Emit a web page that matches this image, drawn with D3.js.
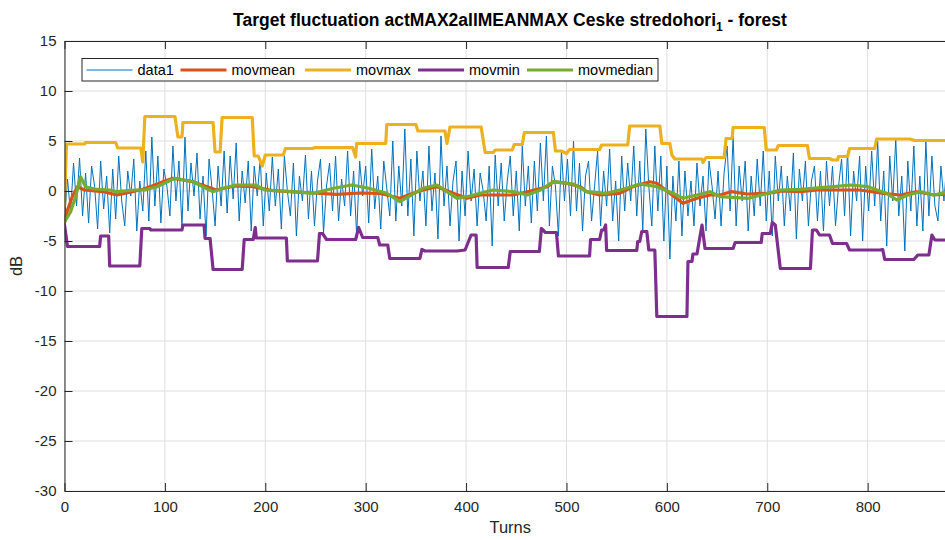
<!DOCTYPE html>
<html>
<head>
<meta charset="utf-8">
<script src="https://cdn.jsdelivr.net/npm/d3@7"></script>
<style>
  html, body { margin: 0; padding: 0; background: #fff; }
  svg { display: block; font-family: "Liberation Sans", Arial, Helvetica, sans-serif; }
</style>
</head>
<body>
<div id="chart"></div>
<script>
// data1: one value every 3 turns
const data1Step = 3;
const data1 = [
  -3.0, 1.2, -2.2, 2.8, -1.5, 3.3, -2.5, 1.8, -3.2, 2.5,
  0.5, -3.8, 3.0, -1.8, 1.5, -4.2, 2.2, -2.8, 3.5, -1.0,
  -3.5, 2.0, -0.5, 3.2, -4.0, 1.0, -2.0, 4.0, -3.0, 5.4,
  -1.5, 3.5, -3.2, 2.2, 0.5, -2.5, 4.5, -1.0, 3.0, -3.6,
  5.4, -2.0, 2.8, -0.5, 3.8, -2.8, 1.5, -4.5, 3.2, 0.2,
  -3.5, 2.5, -1.5, 4.0, -2.2, 3.5, -0.8, 4.8, -3.0, 2.0,
  -1.2, 3.0, -4.0, 2.5, -0.5, 3.3, -3.5, 1.8, -2.0, 3.4,
  -1.5, 2.2, -3.8, 3.5, 0.0, -2.5, 2.8, -4.5, 1.5, -1.0,
  3.6, -2.8, 2.0, -3.5, 1.0, 3.2, -4.2, 0.5, 2.8, -2.0,
  3.5, -3.0, 1.2, -1.5, 4.0, -2.5, 2.0, -4.5, 3.0, -0.5,
  2.5, -3.2, 4.2, -1.8, 1.5, -3.8, 3.0, 0.3, -2.5, 5.0,
  -3.0, 2.5, -1.5, 6.2, -2.5, 3.2, -4.5, 4.0, -1.0, 2.0,
  -3.5, 4.5, -2.0, 1.8, -4.8, 5.5, -1.5, 2.5, -3.5, 1.0,
  3.0, -5.0, 2.0, -2.5, 4.0, -1.0, 2.2, -3.5, 1.8, 0.0,
  -3.0, 2.5, -5.5, 3.6, -1.5, 2.8, -3.0, 1.0, 3.5, -2.5,
  2.0, -4.0, 4.5, -1.5, 2.5, -3.2, 3.0, -2.0, 4.8, -1.0,
  5.5, -3.5, 2.5, 0.5, -4.5, 4.0, -1.0, 3.2, -2.5, 5.0,
  -2.0, 2.8, -4.0, 1.5, 3.0, -3.0, 0.5, 4.0, -3.5, 2.0,
  -1.5, 4.2, -3.0, 1.0, -5.0, 3.5, -2.0, 2.8, -1.0, 4.5,
  -2.5, 3.0, -4.0, 6.2, 0.5, -3.5, 4.5, -2.0, 3.5, -5.0,
  2.5, -6.8, 1.5, -3.0, 3.0, -4.5, 2.0, -2.5, 1.0, -3.5,
  2.8, -1.5, 1.5, -4.0, 3.0, 0.5, -2.8, 2.0, -3.5, 1.8,
  4.5, -2.0, 5.5, -3.5, 2.5, -1.0, 3.0, -4.0, 1.5, -2.5,
  3.2, -1.5, 4.0, -3.0, 2.0, -4.5, 3.5, -1.0, 2.5, -3.5,
  1.5, -2.0, 3.8, -4.8, 2.2, -1.0, 3.0, -3.5, 1.0, 2.5,
  -3.0, 2.0, -4.0, 3.0, -1.5, 2.5, -3.5, 0.5, 3.2, -2.5,
  4.0, -4.5, 2.0, -1.0, 3.5, -5.0, 2.5, -2.0, 4.0, -1.5,
  5.0, -3.0, 2.0, -5.5, 3.5, -1.0, 5.2, -2.5, 1.5, -6.0,
  3.0, -2.0, 4.5, -3.5, 1.5, -4.0, 5.0, -2.5, 3.5, -1.5,
  -3.0, 2.5, -1.0, 3.0, -2.0, 1.5, -2.5
];

// moving statistics: [turn, dB] breakpoints
const movmean = [
  [0,-3.2],[3,-1.9],[8,-0.5],[13,0.43],[20,0.1],[30,0.0],[40,-0.1],[52,-0.4],[62,-0.2],[78,0.17],
  [90,0.6],[100,1.0],[108,1.27],[118,1.1],[128,0.93],[140,0.5],[151,0.1],[160,0.3],[171,0.5],[188,0.43],
  [208,0.03],[228,-0.1],[248,-0.2],[271,-0.33],[295,-0.2],[314,-0.25],[321,-0.4],[334,-0.73],[345,-0.3],[357,0.1],
  [371,0.43],[388,-0.25],[401,-0.73],[414,-0.4],[434,-0.4],[447,-0.4],[461,-0.07],[481,0.43],[487,0.93],[500,0.77],
  [514,0.43],[520,-0.07],[533,-0.4],[553,-0.23],[566,0.43],[583,0.93],[590,0.77],[603,-0.23],[616,-1.23],[630,-0.73],
  [643,-0.4],[653,-0.4],[664,-0.07],[680,-0.3],[700,-0.23],[715,0.0],[733,-0.07],[750,0.1],[766,0.1],[792,0.1],
  [816,-0.23],[832,-0.4],[849,-0.07],[866,-0.4],[888,-0.23]
];

const movmax = [
  [0,-1.5],[2,4.7],[20,4.7],[21,4.85],[51,4.85],[53,4.3],[76,4.3],[78,2.9],[80,7.45],[110,7.45],
  [113,5.4],[117,5.4],[118,6.85],[148,6.85],[150,3.9],[155,3.9],[157,7.35],[187,7.35],[189,3.5],[193,3.5],
  [197,2.5],[200,3.6],[218,3.6],[220,4.25],[247,4.25],[249,4.33],[287,4.33],[290,3.4],[291,4.75],[320,4.75],
  [321,6.65],[350,6.65],[352,6.0],[379,6.0],[381,4.75],[384,6.4],[415,6.4],[419,3.85],[427,3.85],[429,4.1],
  [446,4.1],[448,4.65],[456,4.65],[458,5.85],[487,5.85],[489,4.0],[495,4.0],[500,3.75],[503,4.15],[533,4.15],
  [535,4.6],[561,4.6],[563,6.5],[593,6.5],[595,4.75],[603,4.75],[605,3.6],[608,3.2],[635,3.2],[636,2.85],
  [639,3.35],[657,3.35],[659,5.25],[665,5.25],[666,6.35],[697,6.35],[699,4.1],[709,4.1],[711,4.55],[740,4.55],
  [742,3.25],[762,3.25],[765,3.1],[770,3.1],[771,3.45],[780,3.45],[782,4.25],[807,4.25],[809,5.2],[842,5.2],
  [847,5.05],[888,5.05]
];

const movmin = [
  [0,-3.4],[3,-5.55],[35,-5.55],[36,-4.5],[44,-4.5],[45,-7.5],[75,-7.5],[77,-3.75],[85,-3.75],[86,-3.9],
  [117,-3.9],[118,-3.4],[139,-3.4],[140,-4.75],[145,-4.75],[148,-7.85],[177,-7.85],[179,-4.85],[188,-4.85],[190,-3.65],
  [191,-4.7],[221,-4.7],[222,-7.0],[252,-7.0],[254,-4.25],[257,-4.25],[261,-4.85],[290,-4.85],[293,-3.65],[297,-4.65],
  [312,-4.65],[314,-5.4],[322,-5.4],[324,-6.75],[354,-6.75],[356,-5.85],[359,-6.0],[391,-6.0],[399,-5.9],[405,-4.4],
  [410,-4.4],[411,-7.65],[442,-7.65],[444,-6.05],[473,-6.05],[475,-3.75],[479,-4.15],[490,-4.15],[492,-6.5],[523,-6.5],
  [524,-4.85],[533,-4.85],[535,-3.9],[537,-3.9],[539,-3.4],[540,-5.95],[570,-5.95],[571,-5.05],[573,-5.05],[575,-4.05],
  [580,-4.05],[582,-5.9],[588,-5.9],[590,-12.55],[620,-12.55],[621,-7.05],[625,-7.05],[626,-6.3],[630,-6.3],[633,-4.55],
  [635,-3.4],[638,-5.75],[666,-5.75],[668,-5.15],[694,-5.15],[695,-4.25],[703,-4.25],[705,-3.15],[708,-3.4],[713,-7.75],
  [743,-7.75],[745,-3.9],[749,-3.9],[752,-4.4],[762,-4.4],[765,-5.25],[779,-5.25],[782,-5.9],[812,-5.9],[815,-5.85],
  [817,-6.85],[846,-6.85],[850,-6.4],[861,-6.4],[864,-4.4],[867,-4.9],[888,-4.9]
];

const movmedian = [
  [0,-3.1],[6,-2.1],[11,-0.6],[16,1.43],[21,0.43],[30,0.2],[45,0.1],[52,-0.07],[70,0.1],[80,0.1],
  [92,0.43],[110,1.27],[128,0.93],[148,-0.07],[158,0.27],[171,0.6],[190,0.6],[200,0.1],[228,-0.07],[248,-0.23],
  [268,0.27],[286,0.6],[303,0.27],[321,-0.23],[334,-1.07],[357,0.27],[371,0.6],[391,-0.73],[401,-0.57],[414,-0.23],
  [427,0.1],[447,-0.07],[461,-0.4],[474,0.1],[487,0.93],[507,0.7],[520,-0.07],[540,-0.23],[560,0.27],[573,0.7],
  [590,0.43],[606,-0.23],[616,-0.73],[630,-0.4],[643,-0.07],[653,-0.57],[681,-0.73],[694,-0.4],[713,0.1],[733,0.17],
  [766,0.43],[783,0.6],[800,0.43],[819,-0.23],[829,-0.9],[840,-0.4],[853,-0.07],[866,-0.4],[888,0.1]
];

const xTicks = [0, 100, 200, 300, 400, 500, 600, 700, 800];
const yTicks = [15, 10, 5, 0, -5, -10, -15, -20, -25, -30];
const legendNames = ["data1", "movmean", "movmax", "movmin", "movmedian"];

// Layout
const width = 945;
const height = 540;
const margin = { left: 64.5, top: 41, bottom: 491, right: 956 };

const svg = d3
  .select("#chart")
  .append("svg")
  .attr("width", width)
  .attr("height", height);

const x = d3.scaleLinear().domain([0, 888]).range([margin.left, margin.right]);
const y = d3.scaleLinear().domain([-30, 15]).range([margin.bottom, margin.top]);

// MATLAB default colour order
const colors = {
  data1: "#0072BD",
  movmean: "#D95319",
  movmax: "#EDB120",
  movmin: "#7E2F8E",
  movmedian: "#77AC30",
};

// Grid
const grid = svg.append("g").attr("stroke", "#dedede").attr("stroke-width", 1);
grid
  .selectAll(".vg")
  .data(xTicks)
  .join("line")
  .attr("x1", (d) => x(d))
  .attr("x2", (d) => x(d))
  .attr("y1", margin.top)
  .attr("y2", margin.bottom);
grid
  .selectAll(".hg")
  .data(yTicks)
  .join("line")
  .attr("x1", margin.left)
  .attr("x2", margin.right)
  .attr("y1", (d) => y(d))
  .attr("y2", (d) => y(d));

// Clip
svg
  .append("clipPath")
  .attr("id", "plot-clip")
  .append("rect")
  .attr("x", margin.left)
  .attr("y", margin.top)
  .attr("width", margin.right - margin.left)
  .attr("height", margin.bottom - margin.top);

const plot = svg.append("g").attr("clip-path", "url(#plot-clip)");

const line = d3
  .line()
  .x((d) => x(d[0]))
  .y((d) => y(d[1]));

plot
  .append("path")
  .datum(data1.map((v, i) => [i * data1Step, v]))
  .attr("d", line)
  .attr("fill", "none")
  .attr("stroke", colors.data1)
  .attr("stroke-width", 1)
  .attr("stroke-linejoin", "round");

const thick = [
  ["movmean", movmean],
  ["movmax", movmax],
  ["movmin", movmin],
  ["movmedian", movmedian],
];
thick.forEach(([name, pts]) => {
  plot
    .append("path")
    .datum(pts)
    .attr("d", line)
    .attr("fill", "none")
    .attr("stroke", colors[name])
    .attr("stroke-width", 3.2)
    .attr("stroke-linejoin", "round")
    .attr("stroke-linecap", "round");
});

// Axes (ticks inward, like MATLAB); plain hyphen for negatives
const axisColor = "#262626";
const fmt = (d) => String(d);
const xAxis = svg
  .append("g")
  .attr("transform", `translate(0,${margin.bottom})`)
  .call(d3.axisBottom(x).tickValues(xTicks).tickFormat(fmt).tickSize(-8).tickSizeOuter(0).tickPadding(10));
const xTop = svg
  .append("g")
  .attr("transform", `translate(0,${margin.top})`)
  .call(d3.axisTop(x).tickValues(xTicks).tickSize(-8).tickSizeOuter(0).tickFormat(""));
const yAxis = svg
  .append("g")
  .attr("transform", `translate(${margin.left},0)`)
  .call(d3.axisLeft(y).tickValues(yTicks).tickFormat(fmt).tickSize(-8).tickSizeOuter(0).tickPadding(8));

[xAxis, xTop, yAxis].forEach((g) => {
  g.selectAll("path, line").attr("stroke", axisColor).attr("stroke-width", 1);
  g.selectAll("text")
    .attr("fill", axisColor)
    .attr("font-size", "15px")
    .attr("font-family", '"Liberation Sans", Arial, sans-serif');
});
xAxis.selectAll("text").attr("dy", "0.71em");

// Axis labels
svg
  .append("text")
  .attr("x", (margin.left + margin.right) / 2)
  .attr("y", 533)
  .attr("text-anchor", "middle")
  .attr("fill", axisColor)
  .attr("font-size", "16.5px")
  .text("Turns");

svg
  .append("text")
  .attr("transform", `translate(22,${(margin.top + margin.bottom) / 2}) rotate(-90)`)
  .attr("text-anchor", "middle")
  .attr("fill", axisColor)
  .attr("font-size", "16.5px")
  .text("dB");

// Title with subscript
const title = svg
  .append("text")
  .attr("x", 510)
  .attr("y", 26)
  .attr("text-anchor", "middle")
  .attr("font-weight", "bold")
  .attr("font-size", "17.5px")
  .attr("fill", "#000");
title.append("tspan").text("Target fluctuation actMAX2allMEANMAX Ceske stredohori");
title.append("tspan").attr("font-size", "12px").attr("dy", 5).text("1");
title.append("tspan").attr("dy", -5).text(" - forest");

// Legend
const legendX = [86.5, 180.5, 305, 418, 527];
const legend = svg.append("g");
legend
  .append("rect")
  .attr("x", 82)
  .attr("y", 58.5)
  .attr("width", 576)
  .attr("height", 22.5)
  .attr("fill", "#fff")
  .attr("stroke", axisColor)
  .attr("stroke-width", 1);

legendNames.forEach((name, i) => {
  const lx = legendX[i];
  legend
    .append("line")
    .attr("x1", lx)
    .attr("x2", lx + 46)
    .attr("y1", 70)
    .attr("y2", 70)
    .attr("stroke", colors[name])
    .attr("stroke-width", name === "data1" ? 1 : 3);
  legend
    .append("text")
    .attr("x", lx + 51)
    .attr("y", 75)
    .attr("fill", "#000")
    .attr("font-size", "14.5px")
    .text(name);
});
</script>
</body>
</html>
